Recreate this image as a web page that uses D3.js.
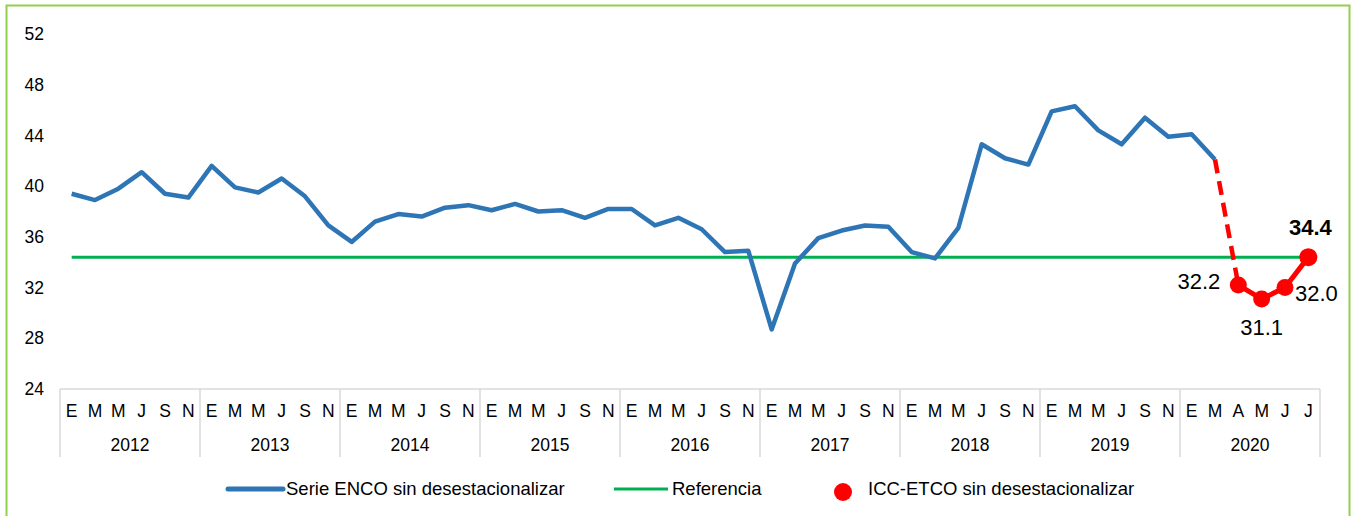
<!DOCTYPE html>
<html>
<head>
<meta charset="utf-8">
<script src="https://cdn.jsdelivr.net/npm/d3@7"></script>
<style>
  body { margin: 0; background: #fff; }
  svg { font-family: "Liberation Sans", Arial, sans-serif; }
</style>
</head>
<body>
<div id="container"></div>
<script>
const years = [2012, 2013, 2014, 2015, 2016, 2017, 2018, 2019, 2020];
const monthLabels = ["E", "M", "M", "J", "S", "N"];
const monthLabels2020 = ["E", "M", "A", "M", "J", "J"];
const yTicks = [24, 28, 32, 36, 40, 44, 48, 52];
const referencia = 34.4;

// Serie ENCO sin desestacionalizar (2012 E ... 2020 M)
const encoValues = [
  39.4, 38.9, 39.8, 41.1, 39.4, 39.1,
  41.6, 39.9, 39.5, 40.6, 39.2, 36.9,
  35.6, 37.2, 37.8, 37.6, 38.3, 38.5,
  38.1, 38.6, 38.0, 38.1, 37.5, 38.2,
  38.2, 36.9, 37.5, 36.6, 34.8, 34.9,
  28.7, 33.9, 35.9, 36.5, 36.9, 36.8,
  34.8, 34.3, 36.7, 43.3, 42.2, 41.7,
  45.9, 46.3, 44.4, 43.3, 45.4, 43.9,
  44.1, 42.1
];
// ICC-ETCO sin desestacionalizar (2020 A, M, J, J)
const iccValues = [32.2, 31.1, 32.0, 34.4];

const width = 1351;
const height = 516;
const plot = { left: 60, right: 1320, top: 34, bottom: 389 };

// categories
const categories = [];
years.forEach((y) => {
  const labels = y === 2020 ? monthLabels2020 : monthLabels;
  labels.forEach((m, i) => categories.push({ key: y + "-" + i, year: y, label: m }));
});

const svg = d3.select("#container")
              .append("svg")
              .attr("width", width)
              .attr("height", height);

// frame
svg.append("rect")
   .attr("x", 6.5).attr("y", 5.5)
   .attr("width", 1343).attr("height", 520)
   .attr("fill", "none")
   .attr("stroke", "#92D050")
   .attr("stroke-width", 2);

const xScale = d3.scaleBand()
                 .domain(categories.map((d) => d.key))
                 .range([plot.left, plot.right]);
const xc = (k) => xScale(k) + xScale.bandwidth() / 2;

const yScale = d3.scaleLinear()
                 .domain([24, 52])
                 .range([plot.bottom, plot.top]);

// y axis labels
svg.append("g")
   .selectAll("text")
   .data(yTicks)
   .enter()
   .append("text")
   .attr("x", 44)
   .attr("y", (d) => yScale(d))
   .attr("dy", "0.35em")
   .attr("text-anchor", "end")
   .attr("font-size", 17.5)
   .attr("fill", "#000")
   .text((d) => d);

// x axis (two level)
const axisColor = "#d9d9d9";
svg.append("line")
   .attr("x1", plot.left).attr("x2", plot.right)
   .attr("y1", plot.bottom).attr("y2", plot.bottom)
   .attr("stroke", axisColor).attr("stroke-width", 1.5);

const yearGroups = years.map((y) => categories.filter((c) => c.year === y));
svg.append("g")
   .selectAll("line")
   .data(yearGroups.concat([null]))
   .enter()
   .append("line")
   .attr("x1", (d, i) => i < years.length ? xScale(d[0].key) : plot.right)
   .attr("x2", (d, i) => i < years.length ? xScale(d[0].key) : plot.right)
   .attr("y1", plot.bottom)
   .attr("y2", 457)
   .attr("stroke", axisColor)
   .attr("stroke-width", 1.5);

svg.append("g")
   .selectAll("text")
   .data(categories)
   .enter()
   .append("text")
   .attr("x", (d) => xc(d.key))
   .attr("y", 411)
   .attr("dy", "0.35em")
   .attr("text-anchor", "middle")
   .attr("font-size", 17.5)
   .text((d) => d.label);

svg.append("g")
   .selectAll("text")
   .data(yearGroups)
   .enter()
   .append("text")
   .attr("x", (d) => (xScale(d[0].key) + xScale(d[d.length - 1].key) + xScale.bandwidth()) / 2)
   .attr("y", 445)
   .attr("dy", "0.35em")
   .attr("text-anchor", "middle")
   .attr("font-size", 17.5)
   .text((d) => d[0].year);

// referencia line
svg.append("line")
   .attr("x1", xc(categories[0].key))
   .attr("x2", xc(categories[categories.length - 1].key))
   .attr("y1", yScale(referencia))
   .attr("y2", yScale(referencia))
   .attr("stroke", "#00B050")
   .attr("stroke-width", 3);

// ENCO line
const encoData = encoValues.map((v, i) => ({ key: categories[i].key, v: v }));
const line = d3.line().x((d) => xc(d.key)).y((d) => yScale(d.v));
svg.append("path")
   .datum(encoData)
   .attr("d", line)
   .attr("fill", "none")
   .attr("stroke", "#2E75B6")
   .attr("stroke-width", 4.5)
   .attr("stroke-linejoin", "round");

// ICC-ETCO
const iccStart = encoValues.length;
const iccData = iccValues.map((v, i) => ({ key: categories[iccStart + i].key, v: v }));
svg.append("path")
   .datum([encoData[encoData.length - 1], iccData[0]])
   .attr("d", line)
   .attr("fill", "none")
   .attr("stroke", "#FF0000")
   .attr("stroke-width", 4.5)
   .attr("stroke-dasharray", "14,8");
svg.append("path")
   .datum(iccData)
   .attr("d", line)
   .attr("fill", "none")
   .attr("stroke", "#FF0000")
   .attr("stroke-width", 5);
svg.append("g")
   .selectAll("circle")
   .data(iccData)
   .enter()
   .append("circle")
   .attr("cx", (d) => xc(d.key))
   .attr("cy", (d) => yScale(d.v))
   .attr("r", (d, i) => i === iccData.length - 1 ? 9 : 8.5)
   .attr("fill", "#FF0000");

// data labels
const labelPos = [
  { dx: -18, dy: 4, anchor: "end", bold: false },
  { dx: 0, dy: 36, anchor: "middle", bold: false },
  { dx: 10, dy: 13, anchor: "start", bold: false },
  { dx: 2, dy: -22, anchor: "middle", bold: true }
];
svg.append("g")
   .selectAll("text")
   .data(iccData)
   .enter()
   .append("text")
   .attr("x", (d, i) => xc(d.key) + labelPos[i].dx)
   .attr("y", (d, i) => yScale(d.v) + labelPos[i].dy)
   .attr("text-anchor", (d, i) => labelPos[i].anchor)
   .attr("font-size", 22)
   .attr("font-weight", (d, i) => labelPos[i].bold ? "bold" : "normal")
   .text((d) => d.v.toFixed(1));

// legend
const legend = svg.append("g").attr("font-size", 18.5);
legend.append("line")
      .attr("x1", 228).attr("x2", 283).attr("y1", 489).attr("y2", 489)
      .attr("stroke", "#2E75B6").attr("stroke-width", 5).attr("stroke-linecap", "round");
legend.append("text").attr("x", 286).attr("y", 489).attr("dy", "0.35em")
      .text("Serie ENCO sin desestacionalizar");
legend.append("line")
      .attr("x1", 614).attr("x2", 668).attr("y1", 489).attr("y2", 489)
      .attr("stroke", "#00B050").attr("stroke-width", 3);
legend.append("text").attr("x", 672).attr("y", 489).attr("dy", "0.35em")
      .text("Referencia");
legend.append("circle")
      .attr("cx", 843).attr("cy", 492).attr("r", 9)
      .attr("fill", "#FF0000");
legend.append("text").attr("x", 868).attr("y", 489).attr("dy", "0.35em")
      .text("ICC-ETCO sin desestacionalizar");
</script>
</body>
</html>
